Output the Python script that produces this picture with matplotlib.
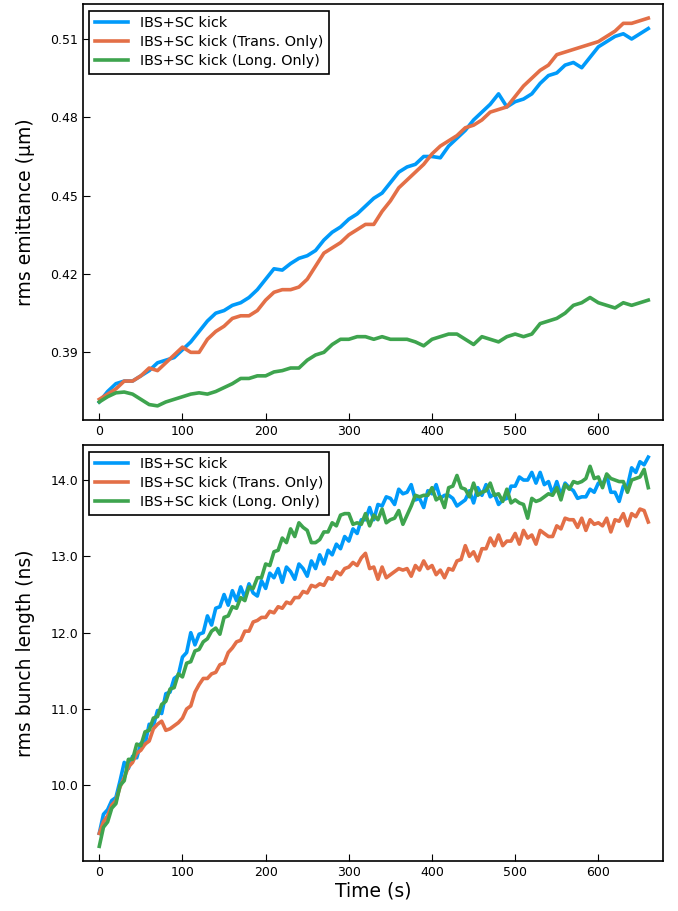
import matplotlib
matplotlib.use('Agg')
import matplotlib.pyplot as plt
import numpy as np

# ---------------------------------------------------

labels = ['IBS+SC kick', 'IBS+SC kick (Trans. Only)', 'IBS+SC kick (Long. Only)']
colors = ['#009AFA', '#E36F47', '#3EA44E']

# emittance, sampled every 10 s
t_emit = np.arange(0, 661, 10)
emit_full = [0.371, 0.375, 0.378, 0.379, 0.379, 0.381, 0.383, 0.386, 0.387, 0.388,
             0.391, 0.394, 0.398, 0.402, 0.405, 0.406, 0.408, 0.409, 0.411, 0.414,
             0.418, 0.422, 0.4215, 0.424, 0.426, 0.427, 0.429, 0.433, 0.436, 0.438,
             0.441, 0.443, 0.446, 0.449, 0.451, 0.455, 0.459, 0.461, 0.462, 0.465,
             0.465, 0.4645, 0.469, 0.472, 0.475, 0.479, 0.482, 0.485, 0.489, 0.484,
             0.486, 0.487, 0.489, 0.493, 0.496, 0.497, 0.500, 0.501, 0.499, 0.503,
             0.507, 0.509, 0.511, 0.512, 0.510, 0.512, 0.514]
emit_trans = [0.372, 0.374, 0.376, 0.379, 0.379, 0.381, 0.384, 0.383, 0.386, 0.389,
              0.392, 0.390, 0.390, 0.395, 0.398, 0.400, 0.403, 0.404, 0.404, 0.406,
              0.410, 0.413, 0.414, 0.414, 0.415, 0.418, 0.423, 0.428, 0.430, 0.432,
              0.435, 0.437, 0.439, 0.439, 0.444, 0.448, 0.453, 0.456, 0.459, 0.462,
              0.466, 0.469, 0.471, 0.473, 0.476, 0.477, 0.479, 0.482, 0.483, 0.484,
              0.488, 0.492, 0.495, 0.498, 0.500, 0.504, 0.505, 0.506, 0.507, 0.508,
              0.509, 0.511, 0.513, 0.516, 0.516, 0.517, 0.518]
emit_long = [0.371, 0.373, 0.3745, 0.3748, 0.374, 0.372, 0.370, 0.3695, 0.371, 0.372,
             0.373, 0.374, 0.3745, 0.374, 0.375, 0.3765, 0.378, 0.380, 0.380, 0.381,
             0.381, 0.3825, 0.383, 0.384, 0.384, 0.387, 0.389, 0.390, 0.393, 0.395,
             0.395, 0.396, 0.396, 0.395, 0.396, 0.395, 0.395, 0.395, 0.394, 0.3925,
             0.395, 0.396, 0.397, 0.397, 0.395, 0.393, 0.396, 0.395, 0.394, 0.396,
             0.397, 0.396, 0.397, 0.401, 0.402, 0.403, 0.405, 0.408, 0.409, 0.411,
             0.409, 0.408, 0.407, 0.409, 0.408, 0.409, 0.410]

# bunch length, sampled every 5 s
t_bl = np.arange(0, 661, 5)
bl_full = [9.37, 9.62, 9.68, 9.80, 9.84, 10.06, 10.30, 10.22, 10.38, 10.36,
           10.55, 10.54, 10.80, 10.78, 10.98, 10.94, 11.20, 11.22, 11.40, 11.44,
           11.68, 11.74, 12.00, 11.84, 11.98, 12.00, 12.22, 12.10, 12.32, 12.34,
           12.50, 12.36, 12.55, 12.42, 12.60, 12.46, 12.64, 12.52, 12.48, 12.68,
           12.58, 12.78, 12.72, 12.84, 12.66, 12.86, 12.80, 12.70, 12.90, 12.84,
           12.74, 12.94, 12.84, 13.02, 12.90, 13.08, 13.02, 13.16, 13.10, 13.26,
           13.20, 13.36, 13.30, 13.48, 13.48, 13.64, 13.48, 13.68, 13.66, 13.78,
           13.76, 13.68, 13.88, 13.82, 13.84, 13.94, 13.74, 13.76, 13.64, 13.86,
           13.82, 13.94, 13.76, 13.80, 13.80, 13.76, 13.66, 13.70, 13.74, 13.86,
           13.70, 13.90, 13.80, 13.94, 13.78, 13.82, 13.68, 13.74, 13.76, 13.92,
           13.92, 14.04, 14.00, 14.00, 14.10, 13.96, 14.10, 13.94, 13.98, 13.82,
           13.98, 13.80, 13.96, 13.90, 13.86, 13.76, 13.78, 13.78, 13.88, 13.84,
           13.96, 13.94, 14.06, 13.84, 13.84, 13.72, 13.92, 13.92, 14.16, 14.10,
           14.24, 14.20, 14.30]
bl_trans = [9.37, 9.52, 9.60, 9.74, 9.80, 9.98, 10.10, 10.24, 10.30, 10.42,
            10.46, 10.54, 10.58, 10.74, 10.80, 10.84, 10.72, 10.74, 10.78, 10.82,
            10.88, 11.00, 11.04, 11.22, 11.32, 11.40, 11.40, 11.46, 11.48, 11.58,
            11.60, 11.74, 11.80, 11.88, 11.90, 12.02, 12.02, 12.14, 12.16, 12.20,
            12.20, 12.28, 12.26, 12.34, 12.32, 12.40, 12.38, 12.46, 12.46, 12.54,
            12.52, 12.62, 12.60, 12.64, 12.62, 12.72, 12.70, 12.80, 12.76, 12.84,
            12.86, 12.92, 12.88, 12.98, 13.04, 12.84, 12.86, 12.70, 12.86, 12.72,
            12.76, 12.80, 12.84, 12.82, 12.84, 12.74, 12.88, 12.82, 12.94, 12.84,
            12.88, 12.76, 12.82, 12.72, 12.84, 12.82, 12.94, 12.96, 13.14, 13.00,
            13.06, 12.94, 13.10, 13.10, 13.24, 13.14, 13.28, 13.14, 13.20, 13.20,
            13.30, 13.16, 13.34, 13.24, 13.28, 13.16, 13.34, 13.30, 13.26, 13.26,
            13.40, 13.36, 13.50, 13.48, 13.48, 13.38, 13.50, 13.34, 13.48, 13.42,
            13.44, 13.40, 13.50, 13.32, 13.48, 13.46, 13.56, 13.40, 13.56, 13.52,
            13.62, 13.60, 13.45]
bl_long = [9.20, 9.45, 9.52, 9.70, 9.76, 10.00, 10.06, 10.34, 10.34, 10.54,
           10.52, 10.70, 10.72, 10.88, 10.90, 11.06, 11.10, 11.26, 11.28, 11.46,
           11.42, 11.60, 11.62, 11.76, 11.78, 11.88, 11.92, 12.02, 12.06, 11.98,
           12.20, 12.22, 12.34, 12.32, 12.46, 12.42, 12.60, 12.58, 12.72, 12.72,
           12.90, 12.88, 13.06, 13.08, 13.24, 13.18, 13.36, 13.26, 13.44, 13.38,
           13.34, 13.18, 13.18, 13.22, 13.32, 13.32, 13.44, 13.40, 13.54, 13.56,
           13.56, 13.42, 13.44, 13.42, 13.56, 13.40, 13.54, 13.48, 13.62, 13.44,
           13.48, 13.50, 13.60, 13.42, 13.54, 13.66, 13.80, 13.78, 13.80, 13.80,
           13.90, 13.74, 13.78, 13.64, 13.90, 13.92, 14.06, 13.90, 13.88, 13.78,
           13.96, 13.80, 13.84, 13.86, 13.96, 13.80, 13.82, 13.72, 13.88, 13.70,
           13.74, 13.70, 13.68, 13.50, 13.76, 13.72, 13.74, 13.78, 13.82, 13.80,
           13.90, 13.74, 13.94, 13.88, 13.98, 13.96, 13.98, 14.02, 14.18, 14.02,
           14.04, 13.90, 14.08, 14.02, 14.00, 13.98, 13.98, 13.84, 14.00, 14.02,
           14.04, 14.14, 13.90]

# ---------------------------------------------------

plt.rcParams['font.family'] = 'DejaVu Sans'

fig = plt.figure(figsize=(6.78, 9.11), dpi=100)
ax1 = fig.add_axes([0.1224, 0.539, 0.8556, 0.4566])
ax2 = fig.add_axes([0.1224, 0.0549, 0.8556, 0.4566])

for y, c, lab in zip([emit_full, emit_trans, emit_long], colors, labels):
    ax1.plot(t_emit, y, color=c, linewidth=2.6, label=lab)
for y, c, lab in zip([bl_full, bl_trans, bl_long], colors, labels):
    ax2.plot(t_bl, y, color=c, linewidth=2.6, label=lab)

ax1.set_ylim(0.3641, 0.5234)
ax1.set_yticks([0.39, 0.42, 0.45, 0.48, 0.51])
ax1.set_yticklabels(['0.39', '0.42', '0.45', '0.48', '0.51'])
ax1.set_ylabel('rms emittance (µm)', fontsize=13.5)

ax2.set_ylim(9.008, 14.459)
ax2.set_yticks([10, 11, 12, 13, 14])
ax2.set_yticklabels(['10.0', '11.0', '12.0', '13.0', '14.0'])
ax2.set_ylabel('rms bunch length (ns)', fontsize=13.5)
ax2.set_xlabel('Time (s)', fontsize=13.5, labelpad=2)

for ax in [ax1, ax2]:
    ax.set_xlim(-19.6, 677.8)
    ax.set_xticks(np.arange(0, 601, 100))
    ax.tick_params(direction='in', length=5, labelsize=9, top=False, right=False)
    ax.yaxis.set_label_coords(-0.083, 0.5)
    for s in ax.spines.values():
        s.set_linewidth(1.2)
    leg = ax.legend(loc='upper left', fontsize=10.4, fancybox=False, framealpha=1,
                    edgecolor='black', borderaxespad=0.45, handlelength=2.3,
                    borderpad=0.4, labelspacing=0.35)
    leg.get_frame().set_linewidth(1.2)

fig.savefig('out.png', dpi=100)
